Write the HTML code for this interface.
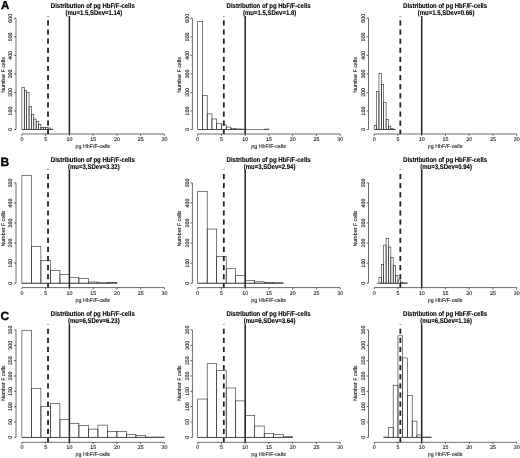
<!DOCTYPE html>
<html><head><meta charset="utf-8"><title>Distribution of pg HbF/F-cells</title>
<style>
html,body{margin:0;padding:0;background:#fff;}
body{width:520px;height:458px;overflow:hidden;}
svg{display:block;}
text{font-family:"Liberation Sans",Arial,sans-serif;text-rendering:geometricPrecision;}
.lt{font-size:11.5px;font-weight:bold;fill:#000;stroke:#000;stroke-width:0.35px;}
.t{font-size:6.0px;font-weight:bold;fill:#000;stroke:#000;stroke-width:0.1px;text-anchor:middle;}
.a{font-size:5.3px;fill:#222;stroke:#222;stroke-width:0.12px;text-anchor:middle;}
.b{fill:none;stroke:#2a2a2a;stroke-width:0.6;}
.ax{stroke:#111;stroke-width:0.62;fill:none;}
.sl{stroke:#222;stroke-width:1.5;}
.dl{stroke:#222;stroke-width:1.8;}
</style></head>
<body><svg width="520" height="458" viewBox="0 0 520 458">
<rect width="520" height="458" fill="#fff"/>
<text x="0.9" y="8.8" class="lt" style="font-size:11.5px">A</text>
<text transform="translate(92.8,7.5) scale(1,1.15)" class="t">Distribution of pg HbF/F-cells</text>
<text transform="translate(93.8,15) scale(1,1.15)" class="t">(mu=1.5,SDev=1.14)</text>
<line x1="21.9" y1="129.5" x2="52.77" y2="129.5" class="b"/>
<rect x="21.9" y="87.44" width="2.38" height="42.06" class="b"/>
<rect x="24.27" y="90.4" width="2.38" height="39.1" class="b"/>
<rect x="26.65" y="92.63" width="2.38" height="36.87" class="b"/>
<rect x="29.02" y="106.52" width="2.38" height="22.98" class="b"/>
<rect x="31.4" y="114.49" width="2.38" height="15.01" class="b"/>
<rect x="33.77" y="119.12" width="2.38" height="10.38" class="b"/>
<rect x="36.15" y="121.35" width="2.38" height="8.15" class="b"/>
<rect x="38.52" y="124.5" width="2.38" height="5" class="b"/>
<rect x="40.9" y="127.46" width="2.38" height="2.04" class="b"/>
<rect x="43.27" y="127.65" width="2.38" height="1.85" class="b"/>
<rect x="45.65" y="127.65" width="2.38" height="1.85" class="b"/>
<rect x="48.02" y="128.02" width="2.38" height="1.48" class="b"/>
<rect x="50.4" y="129.13" width="2.38" height="0.37" class="b"/>
<line x1="16" y1="129.5" x2="16" y2="18.32" class="ax"/>
<line x1="14" y1="129.5" x2="16" y2="129.5" class="ax"/>
<text transform="translate(12.1,129.5) rotate(-90)" class="a">0</text>
<line x1="14" y1="110.97" x2="16" y2="110.97" class="ax"/>
<text transform="translate(12.1,110.97) rotate(-90)" class="a">100</text>
<line x1="14" y1="92.44" x2="16" y2="92.44" class="ax"/>
<text transform="translate(12.1,92.44) rotate(-90)" class="a">200</text>
<line x1="14" y1="73.91" x2="16" y2="73.91" class="ax"/>
<text transform="translate(12.1,73.91) rotate(-90)" class="a">300</text>
<line x1="14" y1="55.38" x2="16" y2="55.38" class="ax"/>
<text transform="translate(12.1,55.38) rotate(-90)" class="a">400</text>
<line x1="14" y1="36.85" x2="16" y2="36.85" class="ax"/>
<text transform="translate(12.1,36.85) rotate(-90)" class="a">500</text>
<line x1="14" y1="18.32" x2="16" y2="18.32" class="ax"/>
<text transform="translate(12.1,18.32) rotate(-90)" class="a">600</text>
<line x1="21.9" y1="134" x2="164.4" y2="134" class="ax"/>
<line x1="21.9" y1="134" x2="21.9" y2="135.8" class="ax"/>
<text x="21.9" y="140.9" class="a">0</text>
<line x1="45.65" y1="134" x2="45.65" y2="135.8" class="ax"/>
<text x="45.65" y="140.9" class="a">5</text>
<line x1="69.4" y1="134" x2="69.4" y2="135.8" class="ax"/>
<text x="69.4" y="140.9" class="a">10</text>
<line x1="93.15" y1="134" x2="93.15" y2="135.8" class="ax"/>
<text x="93.15" y="140.9" class="a">15</text>
<line x1="116.9" y1="134" x2="116.9" y2="135.8" class="ax"/>
<text x="116.9" y="140.9" class="a">20</text>
<line x1="140.65" y1="134" x2="140.65" y2="135.8" class="ax"/>
<text x="140.65" y="140.9" class="a">25</text>
<line x1="164.4" y1="134" x2="164.4" y2="135.8" class="ax"/>
<text x="164.4" y="140.9" class="a">30</text>
<text x="92.8" y="147.9" class="a">pg HbF/F-cells</text>
<text transform="translate(4.8,75) rotate(-90)" class="a">Number F cells</text>
<line x1="69.4" y1="16" x2="69.4" y2="134" class="sl"/>
<line x1="48.02" y1="16" x2="48.02" y2="16.44" class="dl"/>
<line x1="48.02" y1="20.35" x2="48.02" y2="25.55" class="dl"/>
<line x1="48.02" y1="29.46" x2="48.02" y2="34.66" class="dl"/>
<line x1="48.02" y1="38.57" x2="48.02" y2="43.77" class="dl"/>
<line x1="48.02" y1="47.68" x2="48.02" y2="52.88" class="dl"/>
<line x1="48.02" y1="56.79" x2="48.02" y2="61.99" class="dl"/>
<line x1="48.02" y1="65.9" x2="48.02" y2="71.1" class="dl"/>
<line x1="48.02" y1="75.01" x2="48.02" y2="80.21" class="dl"/>
<line x1="48.02" y1="84.12" x2="48.02" y2="89.32" class="dl"/>
<line x1="48.02" y1="93.23" x2="48.02" y2="98.43" class="dl"/>
<line x1="48.02" y1="102.34" x2="48.02" y2="107.54" class="dl"/>
<line x1="48.02" y1="111.45" x2="48.02" y2="116.65" class="dl"/>
<line x1="48.02" y1="120.56" x2="48.02" y2="125.76" class="dl"/>
<line x1="48.02" y1="129.67" x2="48.02" y2="134" class="dl"/>
<text transform="translate(268.6,7.5) scale(1,1.15)" class="t">Distribution of pg HbF/F-cells</text>
<text transform="translate(269.6,15) scale(1,1.15)" class="t">(mu=1.5,SDev=1.8)</text>
<line x1="197.7" y1="129.5" x2="268.95" y2="129.5" class="b"/>
<rect x="197.7" y="21.66" width="4.75" height="107.84" class="b"/>
<rect x="202.45" y="95.59" width="4.75" height="33.91" class="b"/>
<rect x="207.2" y="113.93" width="4.75" height="15.57" class="b"/>
<rect x="211.95" y="118.94" width="4.75" height="10.56" class="b"/>
<rect x="216.7" y="123.39" width="4.75" height="6.11" class="b"/>
<rect x="221.45" y="124.87" width="4.75" height="4.63" class="b"/>
<rect x="226.2" y="127.09" width="4.75" height="2.41" class="b"/>
<rect x="230.95" y="128.57" width="4.75" height="0.93" class="b"/>
<rect x="235.7" y="128.94" width="4.75" height="0.56" class="b"/>
<rect x="240.45" y="129.13" width="4.75" height="0.37" class="b"/>
<rect x="264.2" y="129.13" width="4.75" height="0.37" class="b"/>
<line x1="192.4" y1="129.5" x2="192.4" y2="18.32" class="ax"/>
<line x1="190.4" y1="129.5" x2="192.4" y2="129.5" class="ax"/>
<text transform="translate(188.5,129.5) rotate(-90)" class="a">0</text>
<line x1="190.4" y1="110.97" x2="192.4" y2="110.97" class="ax"/>
<text transform="translate(188.5,110.97) rotate(-90)" class="a">100</text>
<line x1="190.4" y1="92.44" x2="192.4" y2="92.44" class="ax"/>
<text transform="translate(188.5,92.44) rotate(-90)" class="a">200</text>
<line x1="190.4" y1="73.91" x2="192.4" y2="73.91" class="ax"/>
<text transform="translate(188.5,73.91) rotate(-90)" class="a">300</text>
<line x1="190.4" y1="55.38" x2="192.4" y2="55.38" class="ax"/>
<text transform="translate(188.5,55.38) rotate(-90)" class="a">400</text>
<line x1="190.4" y1="36.85" x2="192.4" y2="36.85" class="ax"/>
<text transform="translate(188.5,36.85) rotate(-90)" class="a">500</text>
<line x1="190.4" y1="18.32" x2="192.4" y2="18.32" class="ax"/>
<text transform="translate(188.5,18.32) rotate(-90)" class="a">600</text>
<line x1="197.7" y1="134" x2="340.2" y2="134" class="ax"/>
<line x1="197.7" y1="134" x2="197.7" y2="135.8" class="ax"/>
<text x="197.7" y="140.9" class="a">0</text>
<line x1="221.45" y1="134" x2="221.45" y2="135.8" class="ax"/>
<text x="221.45" y="140.9" class="a">5</text>
<line x1="245.2" y1="134" x2="245.2" y2="135.8" class="ax"/>
<text x="245.2" y="140.9" class="a">10</text>
<line x1="268.95" y1="134" x2="268.95" y2="135.8" class="ax"/>
<text x="268.95" y="140.9" class="a">15</text>
<line x1="292.7" y1="134" x2="292.7" y2="135.8" class="ax"/>
<text x="292.7" y="140.9" class="a">20</text>
<line x1="316.45" y1="134" x2="316.45" y2="135.8" class="ax"/>
<text x="316.45" y="140.9" class="a">25</text>
<line x1="340.2" y1="134" x2="340.2" y2="135.8" class="ax"/>
<text x="340.2" y="140.9" class="a">30</text>
<text x="268.6" y="147.9" class="a">pg HbF/F-cells</text>
<text transform="translate(181.2,75) rotate(-90)" class="a">Number F cells</text>
<line x1="245.2" y1="16" x2="245.2" y2="134" class="sl"/>
<line x1="223.82" y1="16" x2="223.82" y2="16.44" class="dl"/>
<line x1="223.82" y1="20.35" x2="223.82" y2="25.55" class="dl"/>
<line x1="223.82" y1="29.46" x2="223.82" y2="34.66" class="dl"/>
<line x1="223.82" y1="38.57" x2="223.82" y2="43.77" class="dl"/>
<line x1="223.82" y1="47.68" x2="223.82" y2="52.88" class="dl"/>
<line x1="223.82" y1="56.79" x2="223.82" y2="61.99" class="dl"/>
<line x1="223.82" y1="65.9" x2="223.82" y2="71.1" class="dl"/>
<line x1="223.82" y1="75.01" x2="223.82" y2="80.21" class="dl"/>
<line x1="223.82" y1="84.12" x2="223.82" y2="89.32" class="dl"/>
<line x1="223.82" y1="93.23" x2="223.82" y2="98.43" class="dl"/>
<line x1="223.82" y1="102.34" x2="223.82" y2="107.54" class="dl"/>
<line x1="223.82" y1="111.45" x2="223.82" y2="116.65" class="dl"/>
<line x1="223.82" y1="120.56" x2="223.82" y2="125.76" class="dl"/>
<line x1="223.82" y1="129.67" x2="223.82" y2="134" class="dl"/>
<text transform="translate(445.1,7.5) scale(1,1.15)" class="t">Distribution of pg HbF/F-cells</text>
<text transform="translate(446.1,15) scale(1,1.15)" class="t">(mu=1.5,SDev=0.66)</text>
<line x1="374.2" y1="129.5" x2="395.57" y2="129.5" class="b"/>
<rect x="374.2" y="125.42" width="2.38" height="4.08" class="b"/>
<rect x="376.57" y="91.33" width="2.38" height="38.17" class="b"/>
<rect x="378.95" y="73.35" width="2.38" height="56.15" class="b"/>
<rect x="381.32" y="84.29" width="2.38" height="45.21" class="b"/>
<rect x="383.7" y="102.45" width="2.38" height="27.05" class="b"/>
<rect x="386.07" y="119.68" width="2.38" height="9.82" class="b"/>
<rect x="388.45" y="126.16" width="2.38" height="3.34" class="b"/>
<rect x="390.82" y="128.39" width="2.38" height="1.11" class="b"/>
<rect x="393.2" y="129.31" width="2.38" height="0.19" class="b"/>
<line x1="368.5" y1="129.5" x2="368.5" y2="18.32" class="ax"/>
<line x1="366.5" y1="129.5" x2="368.5" y2="129.5" class="ax"/>
<text transform="translate(364.6,129.5) rotate(-90)" class="a">0</text>
<line x1="366.5" y1="110.97" x2="368.5" y2="110.97" class="ax"/>
<text transform="translate(364.6,110.97) rotate(-90)" class="a">100</text>
<line x1="366.5" y1="92.44" x2="368.5" y2="92.44" class="ax"/>
<text transform="translate(364.6,92.44) rotate(-90)" class="a">200</text>
<line x1="366.5" y1="73.91" x2="368.5" y2="73.91" class="ax"/>
<text transform="translate(364.6,73.91) rotate(-90)" class="a">300</text>
<line x1="366.5" y1="55.38" x2="368.5" y2="55.38" class="ax"/>
<text transform="translate(364.6,55.38) rotate(-90)" class="a">400</text>
<line x1="366.5" y1="36.85" x2="368.5" y2="36.85" class="ax"/>
<text transform="translate(364.6,36.85) rotate(-90)" class="a">500</text>
<line x1="366.5" y1="18.32" x2="368.5" y2="18.32" class="ax"/>
<text transform="translate(364.6,18.32) rotate(-90)" class="a">600</text>
<line x1="374.2" y1="134" x2="516.7" y2="134" class="ax"/>
<line x1="374.2" y1="134" x2="374.2" y2="135.8" class="ax"/>
<text x="374.2" y="140.9" class="a">0</text>
<line x1="397.95" y1="134" x2="397.95" y2="135.8" class="ax"/>
<text x="397.95" y="140.9" class="a">5</text>
<line x1="421.7" y1="134" x2="421.7" y2="135.8" class="ax"/>
<text x="421.7" y="140.9" class="a">10</text>
<line x1="445.45" y1="134" x2="445.45" y2="135.8" class="ax"/>
<text x="445.45" y="140.9" class="a">15</text>
<line x1="469.2" y1="134" x2="469.2" y2="135.8" class="ax"/>
<text x="469.2" y="140.9" class="a">20</text>
<line x1="492.95" y1="134" x2="492.95" y2="135.8" class="ax"/>
<text x="492.95" y="140.9" class="a">25</text>
<line x1="516.7" y1="134" x2="516.7" y2="135.8" class="ax"/>
<text x="516.7" y="140.9" class="a">30</text>
<text x="445.1" y="147.9" class="a">pg HbF/F-cells</text>
<text transform="translate(357.3,75) rotate(-90)" class="a">Number F cells</text>
<line x1="421.7" y1="16" x2="421.7" y2="134" class="sl"/>
<line x1="400.32" y1="16" x2="400.32" y2="16.44" class="dl"/>
<line x1="400.32" y1="20.35" x2="400.32" y2="25.55" class="dl"/>
<line x1="400.32" y1="29.46" x2="400.32" y2="34.66" class="dl"/>
<line x1="400.32" y1="38.57" x2="400.32" y2="43.77" class="dl"/>
<line x1="400.32" y1="47.68" x2="400.32" y2="52.88" class="dl"/>
<line x1="400.32" y1="56.79" x2="400.32" y2="61.99" class="dl"/>
<line x1="400.32" y1="65.9" x2="400.32" y2="71.1" class="dl"/>
<line x1="400.32" y1="75.01" x2="400.32" y2="80.21" class="dl"/>
<line x1="400.32" y1="84.12" x2="400.32" y2="89.32" class="dl"/>
<line x1="400.32" y1="93.23" x2="400.32" y2="98.43" class="dl"/>
<line x1="400.32" y1="102.34" x2="400.32" y2="107.54" class="dl"/>
<line x1="400.32" y1="111.45" x2="400.32" y2="116.65" class="dl"/>
<line x1="400.32" y1="120.56" x2="400.32" y2="125.76" class="dl"/>
<line x1="400.32" y1="129.67" x2="400.32" y2="134" class="dl"/>
<text x="0.4" y="165.7" class="lt" style="font-size:12.0px">B</text>
<text transform="translate(92.8,161.5) scale(1,1.15)" class="t">Distribution of pg HbF/F-cells</text>
<text transform="translate(93.8,168.6) scale(1,1.15)" class="t">(mu=3,SDev=3.32)</text>
<line x1="21.9" y1="283.2" x2="116.9" y2="283.2" class="b"/>
<rect x="21.9" y="175.28" width="9.5" height="107.92" class="b"/>
<rect x="31.4" y="246.69" width="9.5" height="36.51" class="b"/>
<rect x="40.9" y="260.53" width="9.5" height="22.67" class="b"/>
<rect x="50.4" y="270.36" width="9.5" height="12.84" class="b"/>
<rect x="59.9" y="274.57" width="9.5" height="8.63" class="b"/>
<rect x="69.4" y="277.38" width="9.5" height="5.82" class="b"/>
<rect x="78.9" y="278.39" width="9.5" height="4.81" class="b"/>
<rect x="88.4" y="282" width="9.5" height="1.2" class="b"/>
<rect x="97.9" y="282.8" width="9.5" height="0.4" class="b"/>
<rect x="107.4" y="282.4" width="9.5" height="0.8" class="b"/>
<line x1="16" y1="283.2" x2="16" y2="182.9" class="ax"/>
<line x1="14" y1="283.2" x2="16" y2="283.2" class="ax"/>
<text transform="translate(12.1,283.2) rotate(-90)" class="a">0</text>
<line x1="14" y1="263.14" x2="16" y2="263.14" class="ax"/>
<text transform="translate(12.1,263.14) rotate(-90)" class="a">100</text>
<line x1="14" y1="243.08" x2="16" y2="243.08" class="ax"/>
<text transform="translate(12.1,243.08) rotate(-90)" class="a">200</text>
<line x1="14" y1="223.02" x2="16" y2="223.02" class="ax"/>
<text transform="translate(12.1,223.02) rotate(-90)" class="a">300</text>
<line x1="14" y1="202.96" x2="16" y2="202.96" class="ax"/>
<text transform="translate(12.1,202.96) rotate(-90)" class="a">400</text>
<line x1="14" y1="182.9" x2="16" y2="182.9" class="ax"/>
<text transform="translate(12.1,182.9) rotate(-90)" class="a">500</text>
<line x1="21.9" y1="287.6" x2="164.4" y2="287.6" class="ax"/>
<line x1="21.9" y1="287.6" x2="21.9" y2="289.4" class="ax"/>
<text x="21.9" y="294.5" class="a">0</text>
<line x1="45.65" y1="287.6" x2="45.65" y2="289.4" class="ax"/>
<text x="45.65" y="294.5" class="a">5</text>
<line x1="69.4" y1="287.6" x2="69.4" y2="289.4" class="ax"/>
<text x="69.4" y="294.5" class="a">10</text>
<line x1="93.15" y1="287.6" x2="93.15" y2="289.4" class="ax"/>
<text x="93.15" y="294.5" class="a">15</text>
<line x1="116.9" y1="287.6" x2="116.9" y2="289.4" class="ax"/>
<text x="116.9" y="294.5" class="a">20</text>
<line x1="140.65" y1="287.6" x2="140.65" y2="289.4" class="ax"/>
<text x="140.65" y="294.5" class="a">25</text>
<line x1="164.4" y1="287.6" x2="164.4" y2="289.4" class="ax"/>
<text x="164.4" y="294.5" class="a">30</text>
<text x="92.8" y="301.5" class="a">pg HbF/F-cells</text>
<text transform="translate(4.8,228.6) rotate(-90)" class="a">Number F cells</text>
<line x1="69.4" y1="169.6" x2="69.4" y2="287.6" class="sl"/>
<line x1="48.02" y1="169.6" x2="48.02" y2="170.04" class="dl"/>
<line x1="48.02" y1="173.95" x2="48.02" y2="179.15" class="dl"/>
<line x1="48.02" y1="183.06" x2="48.02" y2="188.26" class="dl"/>
<line x1="48.02" y1="192.17" x2="48.02" y2="197.37" class="dl"/>
<line x1="48.02" y1="201.28" x2="48.02" y2="206.48" class="dl"/>
<line x1="48.02" y1="210.39" x2="48.02" y2="215.59" class="dl"/>
<line x1="48.02" y1="219.5" x2="48.02" y2="224.7" class="dl"/>
<line x1="48.02" y1="228.61" x2="48.02" y2="233.81" class="dl"/>
<line x1="48.02" y1="237.72" x2="48.02" y2="242.92" class="dl"/>
<line x1="48.02" y1="246.83" x2="48.02" y2="252.03" class="dl"/>
<line x1="48.02" y1="255.94" x2="48.02" y2="261.14" class="dl"/>
<line x1="48.02" y1="265.05" x2="48.02" y2="270.25" class="dl"/>
<line x1="48.02" y1="274.16" x2="48.02" y2="279.36" class="dl"/>
<line x1="48.02" y1="283.27" x2="48.02" y2="287.6" class="dl"/>
<text transform="translate(268.6,161.5) scale(1,1.15)" class="t">Distribution of pg HbF/F-cells</text>
<text transform="translate(269.6,168.6) scale(1,1.15)" class="t">(mu=3,SDev=2.94)</text>
<line x1="197.7" y1="283.2" x2="283.2" y2="283.2" class="b"/>
<rect x="197.7" y="191.53" width="9.5" height="91.67" class="b"/>
<rect x="207.2" y="229.04" width="9.5" height="54.16" class="b"/>
<rect x="216.7" y="256.32" width="9.5" height="26.88" class="b"/>
<rect x="226.2" y="268.76" width="9.5" height="14.44" class="b"/>
<rect x="235.7" y="275.58" width="9.5" height="7.62" class="b"/>
<rect x="245.2" y="280.39" width="9.5" height="2.81" class="b"/>
<rect x="254.7" y="281.8" width="9.5" height="1.4" class="b"/>
<rect x="264.2" y="282.4" width="9.5" height="0.8" class="b"/>
<rect x="273.7" y="282.8" width="9.5" height="0.4" class="b"/>
<line x1="192.4" y1="283.2" x2="192.4" y2="182.9" class="ax"/>
<line x1="190.4" y1="283.2" x2="192.4" y2="283.2" class="ax"/>
<text transform="translate(188.5,283.2) rotate(-90)" class="a">0</text>
<line x1="190.4" y1="263.14" x2="192.4" y2="263.14" class="ax"/>
<text transform="translate(188.5,263.14) rotate(-90)" class="a">100</text>
<line x1="190.4" y1="243.08" x2="192.4" y2="243.08" class="ax"/>
<text transform="translate(188.5,243.08) rotate(-90)" class="a">200</text>
<line x1="190.4" y1="223.02" x2="192.4" y2="223.02" class="ax"/>
<text transform="translate(188.5,223.02) rotate(-90)" class="a">300</text>
<line x1="190.4" y1="202.96" x2="192.4" y2="202.96" class="ax"/>
<text transform="translate(188.5,202.96) rotate(-90)" class="a">400</text>
<line x1="190.4" y1="182.9" x2="192.4" y2="182.9" class="ax"/>
<text transform="translate(188.5,182.9) rotate(-90)" class="a">500</text>
<line x1="197.7" y1="287.6" x2="340.2" y2="287.6" class="ax"/>
<line x1="197.7" y1="287.6" x2="197.7" y2="289.4" class="ax"/>
<text x="197.7" y="294.5" class="a">0</text>
<line x1="221.45" y1="287.6" x2="221.45" y2="289.4" class="ax"/>
<text x="221.45" y="294.5" class="a">5</text>
<line x1="245.2" y1="287.6" x2="245.2" y2="289.4" class="ax"/>
<text x="245.2" y="294.5" class="a">10</text>
<line x1="268.95" y1="287.6" x2="268.95" y2="289.4" class="ax"/>
<text x="268.95" y="294.5" class="a">15</text>
<line x1="292.7" y1="287.6" x2="292.7" y2="289.4" class="ax"/>
<text x="292.7" y="294.5" class="a">20</text>
<line x1="316.45" y1="287.6" x2="316.45" y2="289.4" class="ax"/>
<text x="316.45" y="294.5" class="a">25</text>
<line x1="340.2" y1="287.6" x2="340.2" y2="289.4" class="ax"/>
<text x="340.2" y="294.5" class="a">30</text>
<text x="268.6" y="301.5" class="a">pg HbF/F-cells</text>
<text transform="translate(181.2,228.6) rotate(-90)" class="a">Number F cells</text>
<line x1="245.2" y1="169.6" x2="245.2" y2="287.6" class="sl"/>
<line x1="223.82" y1="169.6" x2="223.82" y2="170.04" class="dl"/>
<line x1="223.82" y1="173.95" x2="223.82" y2="179.15" class="dl"/>
<line x1="223.82" y1="183.06" x2="223.82" y2="188.26" class="dl"/>
<line x1="223.82" y1="192.17" x2="223.82" y2="197.37" class="dl"/>
<line x1="223.82" y1="201.28" x2="223.82" y2="206.48" class="dl"/>
<line x1="223.82" y1="210.39" x2="223.82" y2="215.59" class="dl"/>
<line x1="223.82" y1="219.5" x2="223.82" y2="224.7" class="dl"/>
<line x1="223.82" y1="228.61" x2="223.82" y2="233.81" class="dl"/>
<line x1="223.82" y1="237.72" x2="223.82" y2="242.92" class="dl"/>
<line x1="223.82" y1="246.83" x2="223.82" y2="252.03" class="dl"/>
<line x1="223.82" y1="255.94" x2="223.82" y2="261.14" class="dl"/>
<line x1="223.82" y1="265.05" x2="223.82" y2="270.25" class="dl"/>
<line x1="223.82" y1="274.16" x2="223.82" y2="279.36" class="dl"/>
<line x1="223.82" y1="283.27" x2="223.82" y2="287.6" class="dl"/>
<text transform="translate(445.1,161.5) scale(1,1.15)" class="t">Distribution of pg HbF/F-cells</text>
<text transform="translate(446.1,168.6) scale(1,1.15)" class="t">(mu=3,SDev=0.94)</text>
<line x1="376.57" y1="283.2" x2="407.45" y2="283.2" class="b"/>
<rect x="378.95" y="277.38" width="2.38" height="5.82" class="b"/>
<rect x="381.32" y="264.34" width="2.38" height="18.86" class="b"/>
<rect x="383.7" y="245.09" width="2.38" height="38.11" class="b"/>
<rect x="386.07" y="238.67" width="2.38" height="44.53" class="b"/>
<rect x="388.45" y="247.09" width="2.38" height="36.11" class="b"/>
<rect x="390.82" y="257.32" width="2.38" height="25.88" class="b"/>
<rect x="393.2" y="265.35" width="2.38" height="17.85" class="b"/>
<rect x="395.57" y="275.38" width="2.38" height="7.82" class="b"/>
<rect x="397.95" y="279.99" width="2.38" height="3.21" class="b"/>
<rect x="400.32" y="282.2" width="2.38" height="1" class="b"/>
<rect x="402.7" y="283" width="2.38" height="0.2" class="b"/>
<rect x="405.07" y="283" width="2.38" height="0.2" class="b"/>
<line x1="368.5" y1="283.2" x2="368.5" y2="182.9" class="ax"/>
<line x1="366.5" y1="283.2" x2="368.5" y2="283.2" class="ax"/>
<text transform="translate(364.6,283.2) rotate(-90)" class="a">0</text>
<line x1="366.5" y1="263.14" x2="368.5" y2="263.14" class="ax"/>
<text transform="translate(364.6,263.14) rotate(-90)" class="a">100</text>
<line x1="366.5" y1="243.08" x2="368.5" y2="243.08" class="ax"/>
<text transform="translate(364.6,243.08) rotate(-90)" class="a">200</text>
<line x1="366.5" y1="223.02" x2="368.5" y2="223.02" class="ax"/>
<text transform="translate(364.6,223.02) rotate(-90)" class="a">300</text>
<line x1="366.5" y1="202.96" x2="368.5" y2="202.96" class="ax"/>
<text transform="translate(364.6,202.96) rotate(-90)" class="a">400</text>
<line x1="366.5" y1="182.9" x2="368.5" y2="182.9" class="ax"/>
<text transform="translate(364.6,182.9) rotate(-90)" class="a">500</text>
<line x1="374.2" y1="287.6" x2="516.7" y2="287.6" class="ax"/>
<line x1="374.2" y1="287.6" x2="374.2" y2="289.4" class="ax"/>
<text x="374.2" y="294.5" class="a">0</text>
<line x1="397.95" y1="287.6" x2="397.95" y2="289.4" class="ax"/>
<text x="397.95" y="294.5" class="a">5</text>
<line x1="421.7" y1="287.6" x2="421.7" y2="289.4" class="ax"/>
<text x="421.7" y="294.5" class="a">10</text>
<line x1="445.45" y1="287.6" x2="445.45" y2="289.4" class="ax"/>
<text x="445.45" y="294.5" class="a">15</text>
<line x1="469.2" y1="287.6" x2="469.2" y2="289.4" class="ax"/>
<text x="469.2" y="294.5" class="a">20</text>
<line x1="492.95" y1="287.6" x2="492.95" y2="289.4" class="ax"/>
<text x="492.95" y="294.5" class="a">25</text>
<line x1="516.7" y1="287.6" x2="516.7" y2="289.4" class="ax"/>
<text x="516.7" y="294.5" class="a">30</text>
<text x="445.1" y="301.5" class="a">pg HbF/F-cells</text>
<text transform="translate(357.3,228.6) rotate(-90)" class="a">Number F cells</text>
<line x1="421.7" y1="169.6" x2="421.7" y2="287.6" class="sl"/>
<line x1="400.32" y1="169.6" x2="400.32" y2="170.04" class="dl"/>
<line x1="400.32" y1="173.95" x2="400.32" y2="179.15" class="dl"/>
<line x1="400.32" y1="183.06" x2="400.32" y2="188.26" class="dl"/>
<line x1="400.32" y1="192.17" x2="400.32" y2="197.37" class="dl"/>
<line x1="400.32" y1="201.28" x2="400.32" y2="206.48" class="dl"/>
<line x1="400.32" y1="210.39" x2="400.32" y2="215.59" class="dl"/>
<line x1="400.32" y1="219.5" x2="400.32" y2="224.7" class="dl"/>
<line x1="400.32" y1="228.61" x2="400.32" y2="233.81" class="dl"/>
<line x1="400.32" y1="237.72" x2="400.32" y2="242.92" class="dl"/>
<line x1="400.32" y1="246.83" x2="400.32" y2="252.03" class="dl"/>
<line x1="400.32" y1="255.94" x2="400.32" y2="261.14" class="dl"/>
<line x1="400.32" y1="265.05" x2="400.32" y2="270.25" class="dl"/>
<line x1="400.32" y1="274.16" x2="400.32" y2="279.36" class="dl"/>
<line x1="400.32" y1="283.27" x2="400.32" y2="287.6" class="dl"/>
<text x="0.4" y="320.0" class="lt" style="font-size:12.0px">C</text>
<text transform="translate(92.8,315.5) scale(1,1.15)" class="t">Distribution of pg HbF/F-cells</text>
<text transform="translate(93.8,322.8) scale(1,1.15)" class="t">(mu=6,SDev=6.23)</text>
<line x1="21.9" y1="437.4" x2="164.4" y2="437.4" class="b"/>
<rect x="21.9" y="330.26" width="9.5" height="107.14" class="b"/>
<rect x="31.4" y="388.28" width="9.5" height="49.12" class="b"/>
<rect x="40.9" y="406.39" width="9.5" height="31.01" class="b"/>
<rect x="50.4" y="403.32" width="9.5" height="34.08" class="b"/>
<rect x="59.9" y="419.29" width="9.5" height="18.11" class="b"/>
<rect x="69.4" y="423.28" width="9.5" height="14.12" class="b"/>
<rect x="78.9" y="425.43" width="9.5" height="11.97" class="b"/>
<rect x="88.4" y="429.11" width="9.5" height="8.29" class="b"/>
<rect x="97.9" y="425.12" width="9.5" height="12.28" class="b"/>
<rect x="107.4" y="431.57" width="9.5" height="5.83" class="b"/>
<rect x="116.9" y="431.57" width="9.5" height="5.83" class="b"/>
<rect x="126.4" y="434.64" width="9.5" height="2.76" class="b"/>
<rect x="135.9" y="435.56" width="9.5" height="1.84" class="b"/>
<rect x="145.4" y="437.09" width="9.5" height="0.31" class="b"/>
<rect x="154.9" y="437.09" width="9.5" height="0.31" class="b"/>
<line x1="16" y1="437.4" x2="16" y2="329.95" class="ax"/>
<line x1="14" y1="437.4" x2="16" y2="437.4" class="ax"/>
<text transform="translate(12.1,437.4) rotate(-90)" class="a">0</text>
<line x1="14" y1="422.05" x2="16" y2="422.05" class="ax"/>
<text transform="translate(12.1,422.05) rotate(-90)" class="a">50</text>
<line x1="14" y1="406.7" x2="16" y2="406.7" class="ax"/>
<text transform="translate(12.1,406.7) rotate(-90)" class="a">100</text>
<line x1="14" y1="391.35" x2="16" y2="391.35" class="ax"/>
<text transform="translate(12.1,391.35) rotate(-90)" class="a">150</text>
<line x1="14" y1="376" x2="16" y2="376" class="ax"/>
<text transform="translate(12.1,376) rotate(-90)" class="a">200</text>
<line x1="14" y1="360.65" x2="16" y2="360.65" class="ax"/>
<text transform="translate(12.1,360.65) rotate(-90)" class="a">250</text>
<line x1="14" y1="345.3" x2="16" y2="345.3" class="ax"/>
<text transform="translate(12.1,345.3) rotate(-90)" class="a">300</text>
<line x1="14" y1="329.95" x2="16" y2="329.95" class="ax"/>
<text transform="translate(12.1,329.95) rotate(-90)" class="a">350</text>
<line x1="21.9" y1="442.3" x2="164.4" y2="442.3" class="ax"/>
<line x1="21.9" y1="442.3" x2="21.9" y2="444.1" class="ax"/>
<text x="21.9" y="449.2" class="a">0</text>
<line x1="45.65" y1="442.3" x2="45.65" y2="444.1" class="ax"/>
<text x="45.65" y="449.2" class="a">5</text>
<line x1="69.4" y1="442.3" x2="69.4" y2="444.1" class="ax"/>
<text x="69.4" y="449.2" class="a">10</text>
<line x1="93.15" y1="442.3" x2="93.15" y2="444.1" class="ax"/>
<text x="93.15" y="449.2" class="a">15</text>
<line x1="116.9" y1="442.3" x2="116.9" y2="444.1" class="ax"/>
<text x="116.9" y="449.2" class="a">20</text>
<line x1="140.65" y1="442.3" x2="140.65" y2="444.1" class="ax"/>
<text x="140.65" y="449.2" class="a">25</text>
<line x1="164.4" y1="442.3" x2="164.4" y2="444.1" class="ax"/>
<text x="164.4" y="449.2" class="a">30</text>
<text x="92.8" y="456.2" class="a">pg HbF/F-cells</text>
<text transform="translate(4.8,383.3) rotate(-90)" class="a">Number F cells</text>
<line x1="69.4" y1="324.3" x2="69.4" y2="442.3" class="sl"/>
<line x1="48.02" y1="324.3" x2="48.02" y2="324.74" class="dl"/>
<line x1="48.02" y1="328.65" x2="48.02" y2="333.85" class="dl"/>
<line x1="48.02" y1="337.76" x2="48.02" y2="342.96" class="dl"/>
<line x1="48.02" y1="346.87" x2="48.02" y2="352.07" class="dl"/>
<line x1="48.02" y1="355.98" x2="48.02" y2="361.18" class="dl"/>
<line x1="48.02" y1="365.09" x2="48.02" y2="370.29" class="dl"/>
<line x1="48.02" y1="374.2" x2="48.02" y2="379.4" class="dl"/>
<line x1="48.02" y1="383.31" x2="48.02" y2="388.51" class="dl"/>
<line x1="48.02" y1="392.42" x2="48.02" y2="397.62" class="dl"/>
<line x1="48.02" y1="401.53" x2="48.02" y2="406.73" class="dl"/>
<line x1="48.02" y1="410.64" x2="48.02" y2="415.84" class="dl"/>
<line x1="48.02" y1="419.75" x2="48.02" y2="424.95" class="dl"/>
<line x1="48.02" y1="428.86" x2="48.02" y2="434.06" class="dl"/>
<line x1="48.02" y1="437.97" x2="48.02" y2="442.3" class="dl"/>
<text transform="translate(268.6,315.5) scale(1,1.15)" class="t">Distribution of pg HbF/F-cells</text>
<text transform="translate(269.6,322.8) scale(1,1.15)" class="t">(mu=6,SDev=3.64)</text>
<line x1="197.7" y1="437.4" x2="292.7" y2="437.4" class="b"/>
<rect x="197.7" y="399.02" width="9.5" height="38.38" class="b"/>
<rect x="207.2" y="363.72" width="9.5" height="73.68" class="b"/>
<rect x="216.7" y="370.47" width="9.5" height="66.93" class="b"/>
<rect x="226.2" y="387.97" width="9.5" height="49.43" class="b"/>
<rect x="235.7" y="400.87" width="9.5" height="36.53" class="b"/>
<rect x="245.2" y="415.6" width="9.5" height="21.8" class="b"/>
<rect x="254.7" y="426.04" width="9.5" height="11.36" class="b"/>
<rect x="264.2" y="433.41" width="9.5" height="3.99" class="b"/>
<rect x="273.7" y="434.64" width="9.5" height="2.76" class="b"/>
<rect x="283.2" y="436.79" width="9.5" height="0.61" class="b"/>
<line x1="192.4" y1="437.4" x2="192.4" y2="329.95" class="ax"/>
<line x1="190.4" y1="437.4" x2="192.4" y2="437.4" class="ax"/>
<text transform="translate(188.5,437.4) rotate(-90)" class="a">0</text>
<line x1="190.4" y1="422.05" x2="192.4" y2="422.05" class="ax"/>
<text transform="translate(188.5,422.05) rotate(-90)" class="a">50</text>
<line x1="190.4" y1="406.7" x2="192.4" y2="406.7" class="ax"/>
<text transform="translate(188.5,406.7) rotate(-90)" class="a">100</text>
<line x1="190.4" y1="391.35" x2="192.4" y2="391.35" class="ax"/>
<text transform="translate(188.5,391.35) rotate(-90)" class="a">150</text>
<line x1="190.4" y1="376" x2="192.4" y2="376" class="ax"/>
<text transform="translate(188.5,376) rotate(-90)" class="a">200</text>
<line x1="190.4" y1="360.65" x2="192.4" y2="360.65" class="ax"/>
<text transform="translate(188.5,360.65) rotate(-90)" class="a">250</text>
<line x1="190.4" y1="345.3" x2="192.4" y2="345.3" class="ax"/>
<text transform="translate(188.5,345.3) rotate(-90)" class="a">300</text>
<line x1="190.4" y1="329.95" x2="192.4" y2="329.95" class="ax"/>
<text transform="translate(188.5,329.95) rotate(-90)" class="a">350</text>
<line x1="197.7" y1="442.3" x2="340.2" y2="442.3" class="ax"/>
<line x1="197.7" y1="442.3" x2="197.7" y2="444.1" class="ax"/>
<text x="197.7" y="449.2" class="a">0</text>
<line x1="221.45" y1="442.3" x2="221.45" y2="444.1" class="ax"/>
<text x="221.45" y="449.2" class="a">5</text>
<line x1="245.2" y1="442.3" x2="245.2" y2="444.1" class="ax"/>
<text x="245.2" y="449.2" class="a">10</text>
<line x1="268.95" y1="442.3" x2="268.95" y2="444.1" class="ax"/>
<text x="268.95" y="449.2" class="a">15</text>
<line x1="292.7" y1="442.3" x2="292.7" y2="444.1" class="ax"/>
<text x="292.7" y="449.2" class="a">20</text>
<line x1="316.45" y1="442.3" x2="316.45" y2="444.1" class="ax"/>
<text x="316.45" y="449.2" class="a">25</text>
<line x1="340.2" y1="442.3" x2="340.2" y2="444.1" class="ax"/>
<text x="340.2" y="449.2" class="a">30</text>
<text x="268.6" y="456.2" class="a">pg HbF/F-cells</text>
<text transform="translate(181.2,383.3) rotate(-90)" class="a">Number F cells</text>
<line x1="245.2" y1="324.3" x2="245.2" y2="442.3" class="sl"/>
<line x1="223.82" y1="324.3" x2="223.82" y2="324.74" class="dl"/>
<line x1="223.82" y1="328.65" x2="223.82" y2="333.85" class="dl"/>
<line x1="223.82" y1="337.76" x2="223.82" y2="342.96" class="dl"/>
<line x1="223.82" y1="346.87" x2="223.82" y2="352.07" class="dl"/>
<line x1="223.82" y1="355.98" x2="223.82" y2="361.18" class="dl"/>
<line x1="223.82" y1="365.09" x2="223.82" y2="370.29" class="dl"/>
<line x1="223.82" y1="374.2" x2="223.82" y2="379.4" class="dl"/>
<line x1="223.82" y1="383.31" x2="223.82" y2="388.51" class="dl"/>
<line x1="223.82" y1="392.42" x2="223.82" y2="397.62" class="dl"/>
<line x1="223.82" y1="401.53" x2="223.82" y2="406.73" class="dl"/>
<line x1="223.82" y1="410.64" x2="223.82" y2="415.84" class="dl"/>
<line x1="223.82" y1="419.75" x2="223.82" y2="424.95" class="dl"/>
<line x1="223.82" y1="428.86" x2="223.82" y2="434.06" class="dl"/>
<line x1="223.82" y1="437.97" x2="223.82" y2="442.3" class="dl"/>
<text transform="translate(445.1,315.5) scale(1,1.15)" class="t">Distribution of pg HbF/F-cells</text>
<text transform="translate(446.1,322.8) scale(1,1.15)" class="t">(mu=6,SDev=1.16)</text>
<line x1="383.7" y1="437.4" x2="431.2" y2="437.4" class="b"/>
<rect x="383.7" y="437.09" width="4.75" height="0.31" class="b"/>
<rect x="388.45" y="427.58" width="4.75" height="9.82" class="b"/>
<rect x="393.2" y="385.21" width="4.75" height="52.19" class="b"/>
<rect x="397.95" y="335.78" width="4.75" height="101.62" class="b"/>
<rect x="402.7" y="357.89" width="4.75" height="79.51" class="b"/>
<rect x="407.45" y="395.65" width="4.75" height="41.75" class="b"/>
<rect x="412.2" y="421.13" width="4.75" height="16.27" class="b"/>
<rect x="416.95" y="434.94" width="4.75" height="2.46" class="b"/>
<rect x="421.7" y="437.09" width="4.75" height="0.31" class="b"/>
<rect x="426.45" y="437.09" width="4.75" height="0.31" class="b"/>
<line x1="368.5" y1="437.4" x2="368.5" y2="329.95" class="ax"/>
<line x1="366.5" y1="437.4" x2="368.5" y2="437.4" class="ax"/>
<text transform="translate(364.6,437.4) rotate(-90)" class="a">0</text>
<line x1="366.5" y1="422.05" x2="368.5" y2="422.05" class="ax"/>
<text transform="translate(364.6,422.05) rotate(-90)" class="a">50</text>
<line x1="366.5" y1="406.7" x2="368.5" y2="406.7" class="ax"/>
<text transform="translate(364.6,406.7) rotate(-90)" class="a">100</text>
<line x1="366.5" y1="391.35" x2="368.5" y2="391.35" class="ax"/>
<text transform="translate(364.6,391.35) rotate(-90)" class="a">150</text>
<line x1="366.5" y1="376" x2="368.5" y2="376" class="ax"/>
<text transform="translate(364.6,376) rotate(-90)" class="a">200</text>
<line x1="366.5" y1="360.65" x2="368.5" y2="360.65" class="ax"/>
<text transform="translate(364.6,360.65) rotate(-90)" class="a">250</text>
<line x1="366.5" y1="345.3" x2="368.5" y2="345.3" class="ax"/>
<text transform="translate(364.6,345.3) rotate(-90)" class="a">300</text>
<line x1="366.5" y1="329.95" x2="368.5" y2="329.95" class="ax"/>
<text transform="translate(364.6,329.95) rotate(-90)" class="a">350</text>
<line x1="374.2" y1="442.3" x2="516.7" y2="442.3" class="ax"/>
<line x1="374.2" y1="442.3" x2="374.2" y2="444.1" class="ax"/>
<text x="374.2" y="449.2" class="a">0</text>
<line x1="397.95" y1="442.3" x2="397.95" y2="444.1" class="ax"/>
<text x="397.95" y="449.2" class="a">5</text>
<line x1="421.7" y1="442.3" x2="421.7" y2="444.1" class="ax"/>
<text x="421.7" y="449.2" class="a">10</text>
<line x1="445.45" y1="442.3" x2="445.45" y2="444.1" class="ax"/>
<text x="445.45" y="449.2" class="a">15</text>
<line x1="469.2" y1="442.3" x2="469.2" y2="444.1" class="ax"/>
<text x="469.2" y="449.2" class="a">20</text>
<line x1="492.95" y1="442.3" x2="492.95" y2="444.1" class="ax"/>
<text x="492.95" y="449.2" class="a">25</text>
<line x1="516.7" y1="442.3" x2="516.7" y2="444.1" class="ax"/>
<text x="516.7" y="449.2" class="a">30</text>
<text x="445.1" y="456.2" class="a">pg HbF/F-cells</text>
<text transform="translate(357.3,383.3) rotate(-90)" class="a">Number F cells</text>
<line x1="421.7" y1="324.3" x2="421.7" y2="442.3" class="sl"/>
<line x1="400.32" y1="324.3" x2="400.32" y2="324.74" class="dl"/>
<line x1="400.32" y1="328.65" x2="400.32" y2="333.85" class="dl"/>
<line x1="400.32" y1="337.76" x2="400.32" y2="342.96" class="dl"/>
<line x1="400.32" y1="346.87" x2="400.32" y2="352.07" class="dl"/>
<line x1="400.32" y1="355.98" x2="400.32" y2="361.18" class="dl"/>
<line x1="400.32" y1="365.09" x2="400.32" y2="370.29" class="dl"/>
<line x1="400.32" y1="374.2" x2="400.32" y2="379.4" class="dl"/>
<line x1="400.32" y1="383.31" x2="400.32" y2="388.51" class="dl"/>
<line x1="400.32" y1="392.42" x2="400.32" y2="397.62" class="dl"/>
<line x1="400.32" y1="401.53" x2="400.32" y2="406.73" class="dl"/>
<line x1="400.32" y1="410.64" x2="400.32" y2="415.84" class="dl"/>
<line x1="400.32" y1="419.75" x2="400.32" y2="424.95" class="dl"/>
<line x1="400.32" y1="428.86" x2="400.32" y2="434.06" class="dl"/>
<line x1="400.32" y1="437.97" x2="400.32" y2="442.3" class="dl"/>
</svg></body></html>
